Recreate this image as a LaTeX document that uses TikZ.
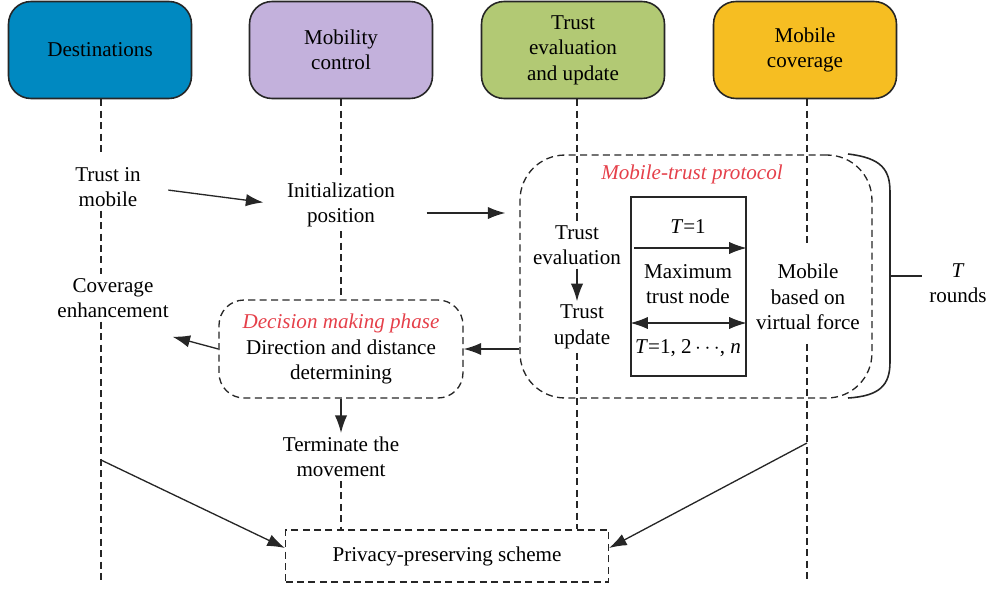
\documentclass[tikz,border=0pt]{standalone}
\usepackage{fontspec}
\setmainfont{Liberation Serif}
\usetikzlibrary{arrows.meta}

\definecolor{destblue}{HTML}{0089C1}
\definecolor{mobpurple}{HTML}{C3B1DC}
\definecolor{trustgreen}{HTML}{B2C974}
\definecolor{covyellow}{HTML}{F6BE22}
\definecolor{titlered}{HTML}{E5404A}
\definecolor{linegray}{HTML}{262626}

\tikzset{
	hdr/.style={draw=linegray, line width=0.9pt, rounded corners=0.45cm, minimum width=3.66cm, minimum height=1.94cm, align=center},
	txt/.style={align=center, inner sep=2pt},
	dashbox/.style={draw=linegray, line width=0.75pt, dash pattern=on 4pt off 2.5pt, align=center},
	life/.style={draw=linegray, line width=0.75pt, dash pattern=on 4pt off 2.5pt},
	arr/.style={draw=linegray, line width=0.75pt, -{Latex[length=10pt,width=7pt]}},
	dbl/.style={draw=linegray, line width=0.75pt, {Latex[length=10pt,width=7pt]}-{Latex[length=10pt,width=7pt]}}
}

\begin{document}
\begin{tikzpicture}[x=0.02cm, y=-0.02cm, font=\fontsize{12}{14.5}\selectfont]
	\useasboundingbox (0,0) rectangle (995,589);

	\coordinate (l1) at (101,0);
	\coordinate (l3) at (577,0);
	\coordinate (l4) at (807,0);
	\coordinate (b1) at (101,580);
	\coordinate (b4) at (807,580);
	\coordinate (d1) at (101,460);
	\coordinate (c1) at (807,443);
	\coordinate (brc) at (890,276);

	\node[hdr, fill=destblue] (dest) at (100,50) {Destinations};
	\node[hdr, fill=mobpurple] (mobc) at (341,50) {Mobility\\control};
	\node[hdr, fill=trustgreen] (trev) at (573,50) {Trust\\evaluation\\and update};
	\node[hdr, fill=covyellow] (mcov) at (805,50) {Mobile\\coverage};

	\node[txt] (tim) at (108,187) {Trust in\\mobile};
	\node[txt] (init) at (341,205) {Initialization\\position};
	\node[txt] (cenh) at (113,298) {Coverage\\enhancement};
	\node[dashbox, rounded corners=0.5cm, minimum width=4.88cm, minimum height=1.96cm] (dec) at (341,349) {{\color{titlered}\itshape Decision making phase}\\Direction and distance\\determining};
	\node[txt] (term) at (341,457) {Terminate the\\movement};
	\node[dashbox, minimum width=6.46cm, minimum height=1.04cm] (priv) at (447,556) {Privacy-preserving scheme};

	\node[dashbox, rounded corners=0.9cm, minimum width=7.04cm, minimum height=4.86cm] (prot) at (696,276.5) {};
	\node[txt, text=titlered, font=\fontsize{12}{14.5}\selectfont\itshape] (ptitle) at (692,174) {Mobile-trust protocol};
	\node[draw=linegray, line width=0.75pt, minimum width=2.3cm, minimum height=3.58cm] (mbox) at (688.5,286.5) {};
	\node[txt] (t1) at (688,227) {\textit{T}=1};
	\node[txt] (mtn) at (688,284) {Maximum\\trust node};
	\node[txt] (tn) at (688,348) {\textit{T}=1, 2\,$\cdots$, \textit{n}};
	\node[txt] (tev) at (577,245) {Trust\\evaluation};
	\node[txt] (tup) at (582,327) {Trust\\update};
	\node[txt] (mvf) at (808,297) {Mobile\\based on\\virtual force};
	\node[txt] (tr) at (958,283) {\textit{T}\\rounds};

	\draw[life, shorten >=0.2cm] (dest.south -| l1) -- (tim.north -| l1);
	\draw[life] (tim.south -| l1) -- (cenh.north -| l1);
	\draw[life] (cenh.south -| l1) -- (b1);
	\draw[life] (mobc.south) -- (init.north);
	\draw[life] (init.south) -- (dec.north);
	\draw[life] (term.south) -- (priv.north -| term);
	\draw[life] (trev.south -| l3) -- (tev.north -| l3);
	\draw[life] (tup.south -| l3) -- (priv.north -| l3);
	\draw[life, shorten >=0.3cm] (mcov.south -| l4) -- (mvf.north -| l4);
	\draw[life, shorten <=0.2cm] (mvf.south -| l4) -- (b4);

	\draw[arr, shorten <=0.48cm, shorten >=0.4cm] (tim.east) -- (init.west);
	\draw[arr, shorten <=0.56cm, shorten >=0.28cm] ([yshift=-0.16cm]init.east) -- ([yshift=-0.16cm]init.east -| prot.west);
	\draw[arr] (dec.east -| prot.west) -- (dec.east);
	\draw[arr] (dec.west) -- ([yshift=-0.3cm]cenh.south east);
	\draw[arr] (dec.south) -- (term.north);
	\draw[arr] (tev.south -| l3) -- (tup.north -| l3);
	\draw[arr] (d1) -- ([yshift=0.16cm]priv.west);
	\draw[arr] (c1) -- ([yshift=0.16cm]priv.east);
	\draw[arr] ([xshift=0.08cm]mbox.west |- 0,248) -- (mbox.east |- 0,248);
	\draw[dbl] (mbox.west |- 0,323) -- (mbox.east |- 0,323);

	\draw[draw=linegray, line width=0.9pt] (848,154) .. controls (882,158) and (890,170) .. (890,192) -- (890,362) .. controls (890,385) and (880,396) .. (848,398);
	\draw[draw=linegray, line width=0.9pt] (brc) -- ++(32,0);
\end{tikzpicture}
\end{document}
